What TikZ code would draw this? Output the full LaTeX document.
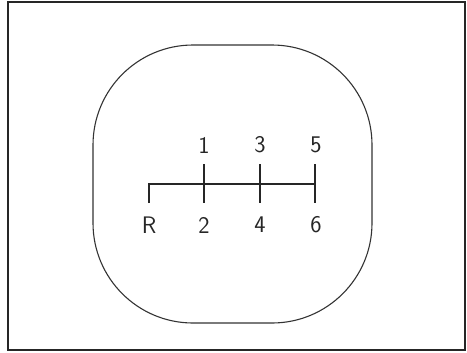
\documentclass[tikz,border=0pt]{standalone}
\begin{document}
\begin{tikzpicture}[x=1bp,y=-1bp,
  frame/.style={line width=2bp,draw=black!85},
  knob/.style={line width=1.1bp,draw=black!80,rounded corners=100bp},
  gate/.style={line width=1.1bp,draw=black!85},
  lbl/.style={font=\sffamily\fontsize{24}{26}\selectfont,inner sep=0pt,text=black!85}]
\useasboundingbox (0,0) rectangle (467,352);
\draw[frame] (8,1.5) rectangle (465,350);
\draw[knob] (93,45) rectangle (372,323);
% gate coordinates
\coordinate (r0) at (149,184);
\coordinate (r1) at (149,203);
\coordinate (a0) at (204,164);
\coordinate (a1) at (204,203);
\coordinate (b0) at (260,164);
\coordinate (b1) at (260,203);
\coordinate (c0) at (315,164);
\coordinate (c1) at (315,203);
\coordinate (c) at (315,184);
\draw[gate] (r1) -- (r0) -- (c);
\draw[gate] (a0) -- (a1);
\draw[gate] (b0) -- (b1);
\draw[gate] (c0) -- (c1);
\node[lbl] (n1) at (204,145) {1};
\node[lbl] (n3) at (260,145) {3};
\node[lbl] (n5) at (316,145) {5};
\node[lbl] (nR) at (149,225) {R};
\node[lbl] (n2) at (204,225) {2};
\node[lbl] (n4) at (260,225) {4};
\node[lbl] (n6) at (316,225) {6};
\end{tikzpicture}
\end{document}
